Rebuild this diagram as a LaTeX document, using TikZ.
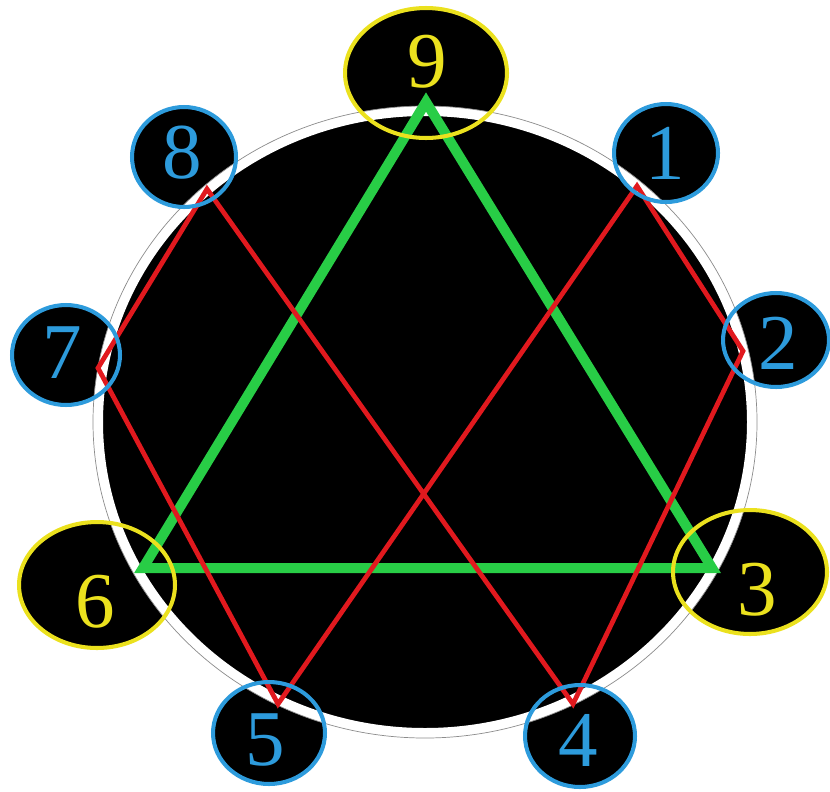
\documentclass[tikz,border=0pt]{standalone}
\usepackage{fontspec}
\setmainfont{Liberation Serif}
\definecolor{ringblue}{RGB}{45,155,220}
\definecolor{ringyellow}{RGB}{235,225,30}
\definecolor{trigreen}{RGB}{40,205,70}
\definecolor{hexred}{RGB}{225,25,30}
\usetikzlibrary{shapes.geometric}
\tikzset{
  tag/.style={ellipse,inner sep=0pt,line width=2.3pt},
  bluetag/.style={tag,draw=ringblue},
  yellowtag/.style={tag,draw=ringyellow},
  digit/.style={font=\fontsize{45}{45}\selectfont,inner sep=0pt},
  tri/.style={draw=trigreen,line width=5.7pt,line join=miter},
  hex/.style={draw=hexred,line width=2.7pt,line join=miter},
}

\begin{document}
\begin{tikzpicture}[x=0.02cm,y=-0.02cm]
    \useasboundingbox (0,0) rectangle (830,791);
    \coordinate (c) at (425,422);
    % points on the circle
    \coordinate (p9) at (426,102);
    \coordinate (p3) at (712,568);
    \coordinate (p6) at (143,568);
    \coordinate (p1) at (637,186);
    \coordinate (p2) at (743,351);
    \coordinate (p4) at (573,704);
    \coordinate (p5) at (278,704);
    \coordinate (p7) at (98,368);
    \coordinate (p8) at (207,189);
    % black backing of the number tags
    \foreach \pos/\w/\h/\nm in {(426,73)/3.24/2.6/9, (184,157)/2.08/2.0/8,
        (666,153)/2.08/1.96/1, (66,355)/2.16/2.0/7, (776,340)/2.12/1.88/2,
        (97,585)/3.12/2.52/6, (750,572)/3.08/2.48/3, (269,733)/2.24/2.04/5,
        (580,736)/2.2/2.04/4}
      \node[ellipse,inner sep=0pt,fill=black,minimum width=\w cm,minimum height=\h cm] (b\nm) at \pos {};
    % the circle
    \fill[black] (c) ellipse [x radius=330, y radius=314];
    \draw[white,line width=5.7pt] (c) ellipse [x radius=327, y radius=311];
    \draw[black!45,line width=0.4pt] (c) ellipse [x radius=332, y radius=316];
    % figures
    \draw[tri] (p9) -- (p3) -- (p6) -- cycle;
    \draw[hex] (p8) -- (p7) -- (p5) -- (p1) -- (p2) -- (p4) -- cycle;
    % number tags
    \node[yellowtag,minimum width=3.24cm,minimum height=2.6cm] (r9) at (b9) {};
    \node[bluetag,minimum width=2.08cm,minimum height=2.0cm] (r8) at (b8) {};
    \node[bluetag,minimum width=2.08cm,minimum height=1.96cm] (r1) at (b1) {};
    \node[bluetag,minimum width=2.16cm,minimum height=2.0cm] (r7) at (b7) {};
    \node[bluetag,minimum width=2.12cm,minimum height=1.88cm] (r2) at (b2) {};
    \node[yellowtag,minimum width=3.12cm,minimum height=2.52cm] (r6) at (b6) {};
    \node[yellowtag,minimum width=3.08cm,minimum height=2.48cm] (r3) at (b3) {};
    \node[bluetag,minimum width=2.24cm,minimum height=2.04cm] (r5) at (b5) {};
    \node[bluetag,minimum width=2.2cm,minimum height=2.04cm] (r4) at (b4) {};
    \node[digit,text=ringyellow] (n9) at (427,62) {9};
    \node[digit,text=ringblue] (n8) at (182,153) {8};
    \node[digit,text=ringblue] (n1) at (665,153) {1};
    \node[digit,text=ringblue] (n7) at (62,353) {7};
    \node[digit,text=ringblue] (n2) at (778,343) {2};
    \node[digit,text=ringyellow] (n6) at (95,602) {6};
    \node[digit,text=ringyellow] (n3) at (757,590) {3};
    \node[digit,text=ringblue] (n5) at (265,740) {5};
    \node[digit,text=ringblue] (n4) at (578,740) {4};
  \end{tikzpicture}
\end{document}
